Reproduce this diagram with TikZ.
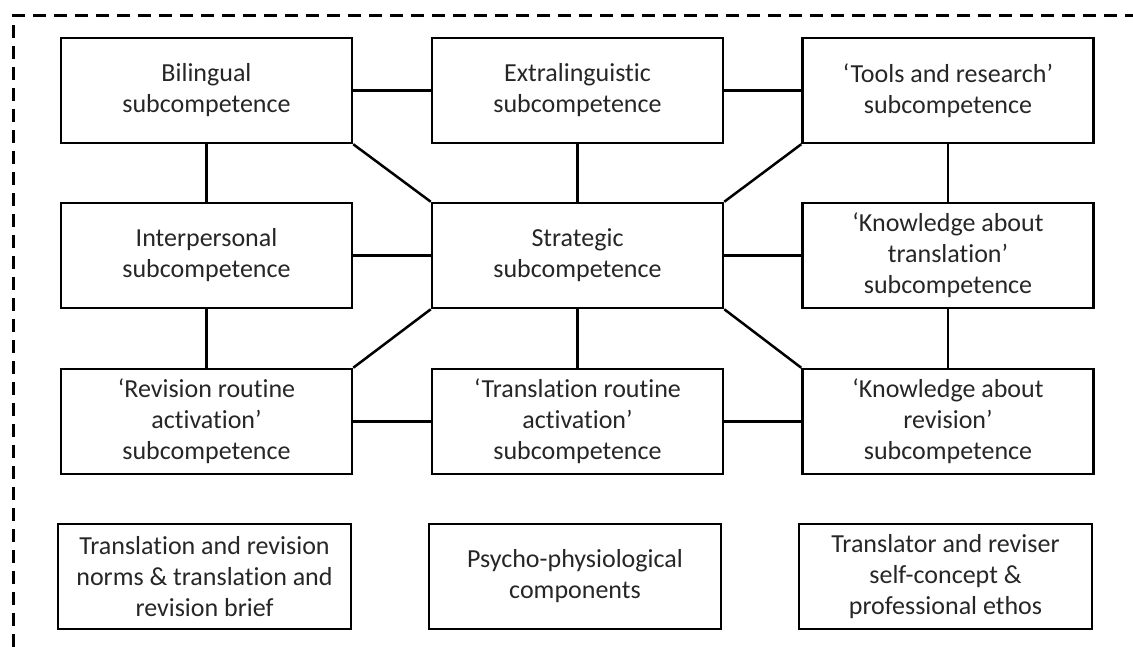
\documentclass[tikz,border=0pt]{standalone}
\usepackage{fontspec}
\setmainfont{Carlito}[Ligatures={NoCommon}]
\begin{document}
\begin{tikzpicture}[x=1pt,y=-1pt,
  box/.style={draw, line width=2.5pt, minimum width=291pt, minimum height=105pt, inner sep=0pt, align=center, font=\fontsize{26}{31}\selectfont, text=black!85},
  link/.style={line width=2.5pt},
  frame/.style={line width=3pt, dash pattern=on 13pt off 8pt}]
\useasboundingbox (0,0) rectangle (1133,647);
\draw[frame] (13,647) -- (13,16) -- (1133,16);

\node[box] (B) at (206.5,90.5) {Bilingual\\subcompetence};
\node[box] (E) at (577.5,90.5) {Extralinguistic\\subcompetence};
\node[box] (T) at (948,90.5) {‘Tools and research’\\subcompetence};

\node[box] (I) at (206.5,255.5) {Interpersonal\\subcompetence};
\node[box] (S) at (577.5,255.5) {Strategic\\subcompetence};
\node[box] (KT) at (948,255.5) {‘Knowledge about\\translation’\\subcompetence};

\node[box] (R) at (206.5,421.5) {‘Revision routine\\activation’\\subcompetence};
\node[box] (TR) at (577.5,421.5) {‘Translation routine\\activation’\\subcompetence};
\node[box] (KR) at (948,421.5) {‘Knowledge about\\revision’\\subcompetence};

\node[box, minimum width=293pt] (N) at (204.5,576.5) {Translation and revision\\norms \& translation and\\revision brief};
\node[box, minimum width=292pt] (P) at (575,576.5) {Psycho-physiological\\components};
\node[box, minimum width=293pt] (SC) at (945.5,576.5) {Translator and reviser\\self-concept \&\\professional ethos};

\draw[link] (B) -- (E);
\draw[link] (E) -- (T);
\draw[link] (B) -- (I);
\draw[link] (E) -- (S);
\draw[link] (T) -- (KT);
\draw[link] (B.south east) -- (S.north west);
\draw[link] (T.south west) -- (S.north east);
\draw[link] (I) -- (S);
\draw[link] (S) -- (KT);
\draw[link] (I) -- (R);
\draw[link] (S) -- (TR);
\draw[link] (KT) -- (KR);
\draw[link] (S.south west) -- (R.north east);
\draw[link] (S.south east) -- (KR.north west);
\draw[link] (R) -- (TR);
\draw[link] (TR) -- (KR);
\end{tikzpicture}
\end{document}
